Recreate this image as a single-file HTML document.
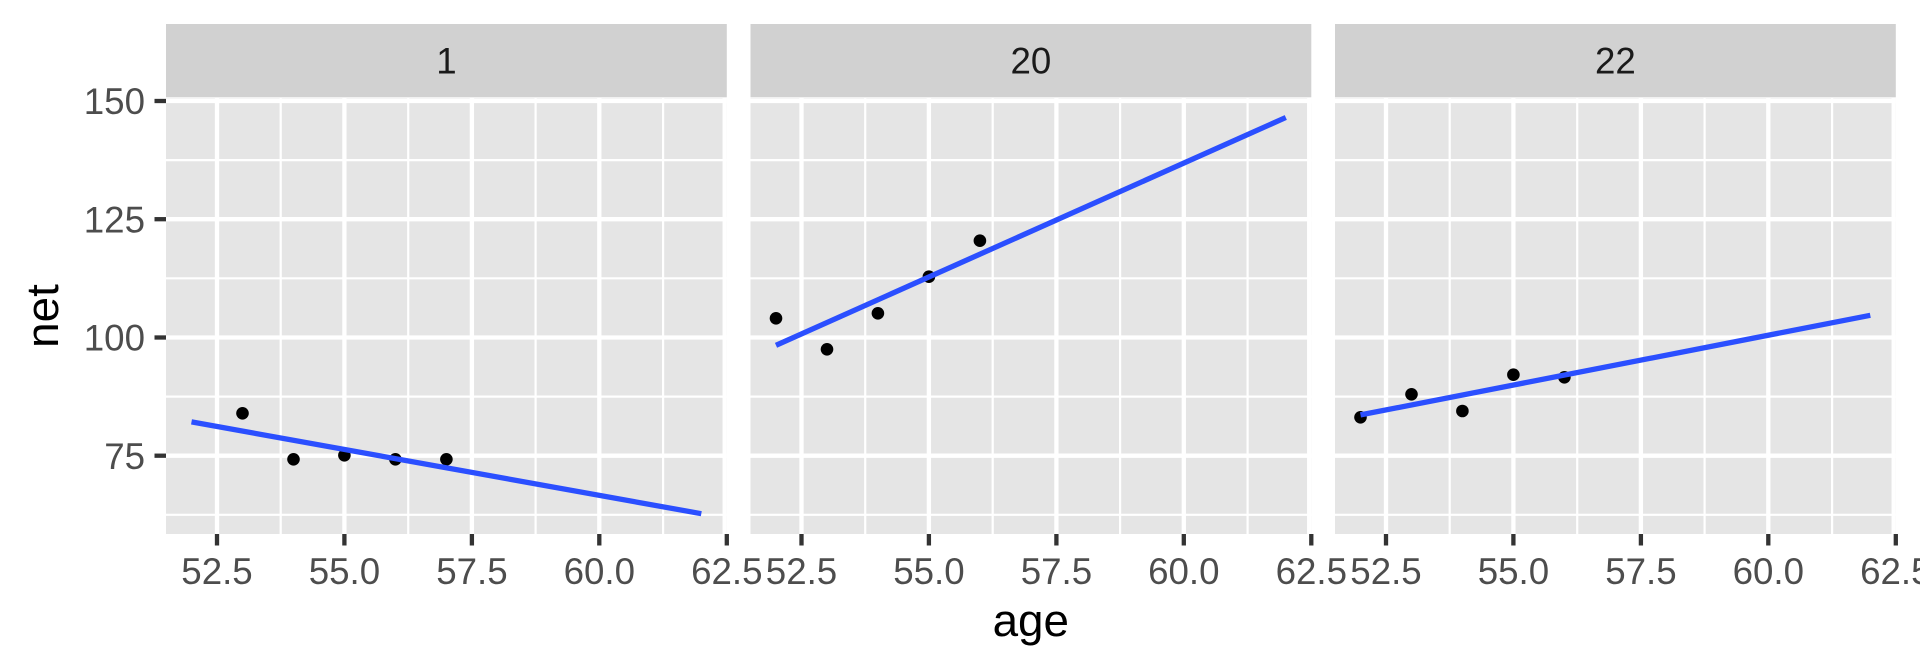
<!DOCTYPE html>
<html>
<head>
<meta charset="utf-8">
<style>
html,body{margin:0;padding:0;background:#fff;}
svg{display:block;}
text{font-family:"Liberation Sans",Arial,sans-serif;}
</style>
</head>
<body>
<svg width="1920" height="672" viewBox="0 0 1920 672" xmlns="http://www.w3.org/2000/svg">
<rect x="0" y="0" width="1920" height="672" fill="#ffffff"/>

<defs>
<g id="panelbg">
  <rect x="166" y="98.5" width="560.8" height="435.5" fill="#E5E5E5"/>
  <g stroke="#ffffff" stroke-width="2.2">
    <line x1="166" x2="726.8" y1="160.1" y2="160.1"/>
    <line x1="166" x2="726.8" y1="278.3" y2="278.3"/>
    <line x1="166" x2="726.8" y1="396.6" y2="396.6"/>
    <line x1="166" x2="726.8" y1="514.8" y2="514.8"/>
    <line x1="280.7" x2="280.7" y1="98.5" y2="534"/>
    <line x1="408.2" x2="408.2" y1="98.5" y2="534"/>
    <line x1="535.6" x2="535.6" y1="98.5" y2="534"/>
    <line x1="663.1" x2="663.1" y1="98.5" y2="534"/>
  </g>
  <g stroke="#ffffff" stroke-width="4.3">
    <line x1="166" x2="726.8" y1="101" y2="101"/>
    <line x1="166" x2="726.8" y1="219.2" y2="219.2"/>
    <line x1="166" x2="726.8" y1="337.5" y2="337.5"/>
    <line x1="166" x2="726.8" y1="455.7" y2="455.7"/>
    <line x1="217" x2="217" y1="98.5" y2="534"/>
    <line x1="344.4" x2="344.4" y1="98.5" y2="534"/>
    <line x1="471.9" x2="471.9" y1="98.5" y2="534"/>
    <line x1="599.3" x2="599.3" y1="98.5" y2="534"/>
    <line x1="724.7" x2="724.7" y1="98.5" y2="534"/>
  </g>
  <rect x="166" y="24" width="560.8" height="73.3" fill="#D1D1D1"/>
  <g stroke="#333333" stroke-width="4.3">
    <line x1="217" x2="217" y1="534" y2="545.5"/>
    <line x1="344.4" x2="344.4" y1="534" y2="545.5"/>
    <line x1="471.9" x2="471.9" y1="534" y2="545.5"/>
    <line x1="599.3" x2="599.3" y1="534" y2="545.5"/>
    <line x1="726.8" x2="726.8" y1="534" y2="545.5"/>
  </g>
  <g fill="#4D4D4D" font-size="36.7" text-anchor="middle">
    <text x="217" y="584">52.5</text>
    <text x="344.4" y="584">55.0</text>
    <text x="471.9" y="584">57.5</text>
    <text x="599.3" y="584">60.0</text>
    <text x="726.8" y="584">62.5</text>
  </g>
</g>
</defs>

<use href="#panelbg"/>
<use href="#panelbg" transform="translate(584.5,0)"/>
<use href="#panelbg" transform="translate(1169,0)"/>

<g fill="#1A1A1A" font-size="36.7" text-anchor="middle">
  <text x="446.4" y="73.6">1</text>
  <text x="1030.9" y="73.6">20</text>
  <text x="1615.4" y="73.6">22</text>
</g>

<g stroke="#333333" stroke-width="4.3">
  <line x1="154.5" x2="166" y1="101" y2="101"/>
  <line x1="154.5" x2="166" y1="219.2" y2="219.2"/>
  <line x1="154.5" x2="166" y1="337.5" y2="337.5"/>
  <line x1="154.5" x2="166" y1="455.7" y2="455.7"/>
</g>
<g fill="#4D4D4D" font-size="36.7" text-anchor="end">
  <text x="145" y="114.1">150</text>
  <text x="145" y="232.3">125</text>
  <text x="145" y="350.6">100</text>
  <text x="145" y="468.8">75</text>
</g>

<g fill="#000000">
  <circle cx="242.5" cy="413.3" r="6.3"/>
  <circle cx="293.5" cy="459.3" r="6.3"/>
  <circle cx="344.4" cy="455.3" r="6.3"/>
  <circle cx="395.4" cy="459.3" r="6.3"/>
  <circle cx="446.4" cy="459.3" r="6.3"/>
</g>
<line x1="191.5" y1="421.9" x2="701.3" y2="513.7" stroke="#2B4FFF" stroke-width="5.3"/>

<g fill="#000000">
  <circle cx="776" cy="318.3" r="6.3"/>
  <circle cx="827" cy="349.3" r="6.3"/>
  <circle cx="877.9" cy="313.3" r="6.3"/>
  <circle cx="928.9" cy="276.7" r="6.3"/>
  <circle cx="979.9" cy="240.7" r="6.3"/>
</g>
<line x1="776" y1="345.3" x2="1285.8" y2="117.5" stroke="#2B4FFF" stroke-width="5.3"/>

<g fill="#000000">
  <circle cx="1360.5" cy="417.3" r="6.3"/>
  <circle cx="1411.5" cy="394.3" r="6.3"/>
  <circle cx="1462.4" cy="411" r="6.3"/>
  <circle cx="1513.4" cy="374.7" r="6.3"/>
  <circle cx="1564.4" cy="377.3" r="6.3"/>
</g>
<line x1="1360.5" y1="414.9" x2="1870.3" y2="315.3" stroke="#2B4FFF" stroke-width="5.3"/>

<text x="1030.8" y="636" font-size="45.8" fill="#000000" text-anchor="middle">age</text>
<text transform="translate(58,316) rotate(-90)" x="0" y="0" font-size="45.8" fill="#000000" text-anchor="middle">net</text>
</svg>
</body>
</html>
